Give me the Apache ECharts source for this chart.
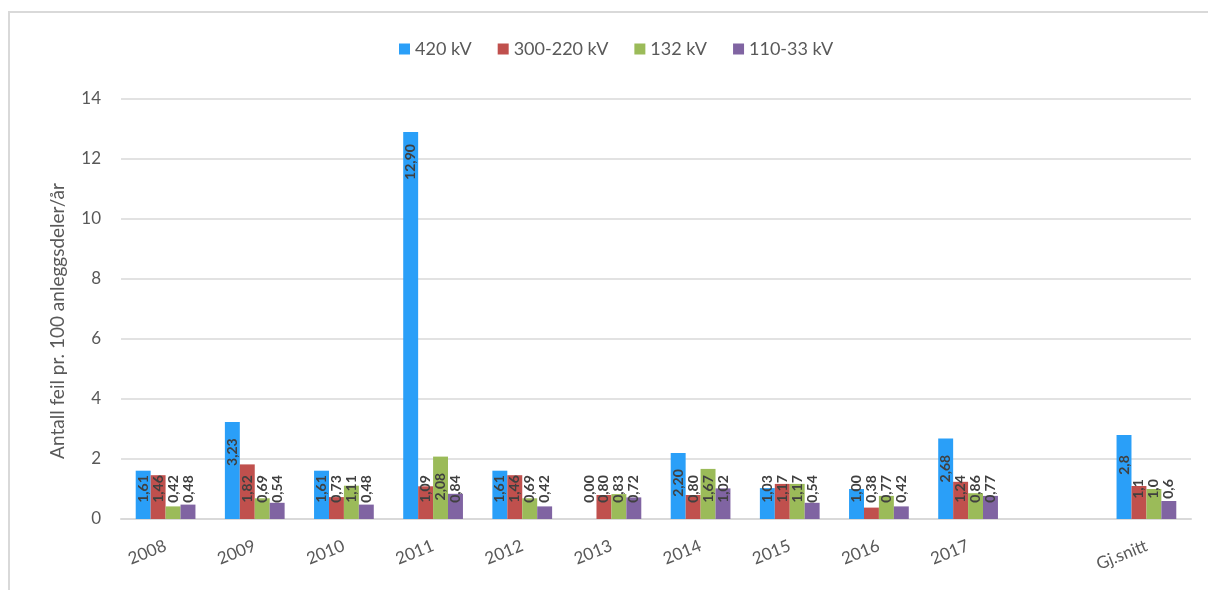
<!DOCTYPE html>
<html>
<head>
<meta charset="utf-8">
<script src="https://cdn.jsdelivr.net/npm/echarts@6/dist/echarts.min.js"></script>
<style>
  html, body { margin: 0; padding: 0; background: #fff; }
  .frame {
    position: absolute; left: 8px; top: 11px; width: 1210px; height: 590px;
    border-left: 2px solid #d9d9d9; border-top: 2px solid #d9d9d9;
  }
  #chart { position: absolute; left: 0; top: 0; width: 1208px; height: 590px; }
</style>
</head>
<body>
<div class="frame"></div>
<div id="chart"></div>
<script>
// kategorier (tom plass før gjennomsnitt)
const categories = ['2008', '2009', '2010', '2011', '2012', '2013', '2014', '2015', '2016', '2017', '', 'Gj.snitt']
const seriesNames = ['420 kV', '300-220 kV', '132 kV', '110-33 kV']
const v420 = [1.61, 3.23, 1.61, 12.90, 1.61, 0.00, 2.20, 1.03, 1.00, 2.68, null, 2.8]
const v300 = [1.46, 1.82, 0.73, 1.09, 1.46, 0.80, 0.80, 1.17, 0.38, 1.24, null, 1.1]
const v132 = [0.42, 0.69, 1.11, 2.08, 0.69, 0.83, 1.67, 1.17, 0.77, 0.86, null, 1.0]
const v110 = [0.48, 0.54, 0.48, 0.84, 0.42, 0.72, 1.02, 0.54, 0.42, 0.77, null, 0.6]
const yTicks = [0, 2, 4, 6, 8, 10, 12, 14]

const colors = ['#2a9ff8', '#c0504d', '#9bbb59', '#8064a2']
const font = 'Lato'

// korte søyler får etiketten nede ved basis, høye oppe ved toppen
function toData(vals) {
  return vals.map(v => {
    if (v === null) return null
    return { value: v, label: { position: v < 2 ? 'insideBottom' : 'insideTop' } }
  })
}

function fmt(p) {
  const dec = categories[p.dataIndex] === 'Gj.snitt' ? 1 : 2
  return p.value.toFixed(dec).replace('.', ',')
}

const chart = echarts.init(document.getElementById('chart'))
chart.setOption({
  animation: false,
  color: colors,
  legend: {
    data: seriesNames,
    top: 35,
    left: 394,
    itemWidth: 11,
    itemHeight: 11,
    itemGap: 26,
    icon: 'rect',
    textStyle: { fontFamily: font, fontSize: 18, color: '#595959' }
  },
  grid: {
    left: 121,
    right: 17,
    top: 99,
    bottom: 71
  },
  xAxis: {
    type: 'category',
    data: categories,
    axisLine: { lineStyle: { color: '#d9d9d9', width: 2 } },
    axisTick: { show: false },
    axisLabel: {
      interval: 0,
      rotate: 22,
      margin: 26,
      fontFamily: font,
      fontSize: 17,
      color: '#595959'
    }
  },
  yAxis: {
    type: 'value',
    min: yTicks[0],
    max: yTicks[yTicks.length - 1],
    interval: 2,
    name: 'Antall feil pr. 100 anleggsdeler/år',
    nameLocation: 'middle',
    nameGap: 54,
    nameTextStyle: { fontFamily: font, fontSize: 19, color: '#595959', padding: [0, 24, 0, 0] },
    axisLine: { show: false },
    axisTick: { show: false },
    axisLabel: { margin: 20, fontFamily: font, fontSize: 17, color: '#595959' },
    splitLine: { lineStyle: { color: '#d9d9d9', width: 1.5 } }
  },
  series: [v420, v300, v132, v110].map((vals, i) => ({
    name: seriesNames[i],
    type: 'bar',
    barGap: '0%',
    barCategoryGap: '33%',
    data: toData(vals),
    label: {
      show: true,
      rotate: 90,
      distance: 30,
      align: 'center',
      verticalAlign: 'middle',
      fontFamily: font,
      fontSize: 14,
      fontWeight: 'bold',
      color: '#404040',
      formatter: fmt
    }
  }))
})
</script>
</body>
</html>
